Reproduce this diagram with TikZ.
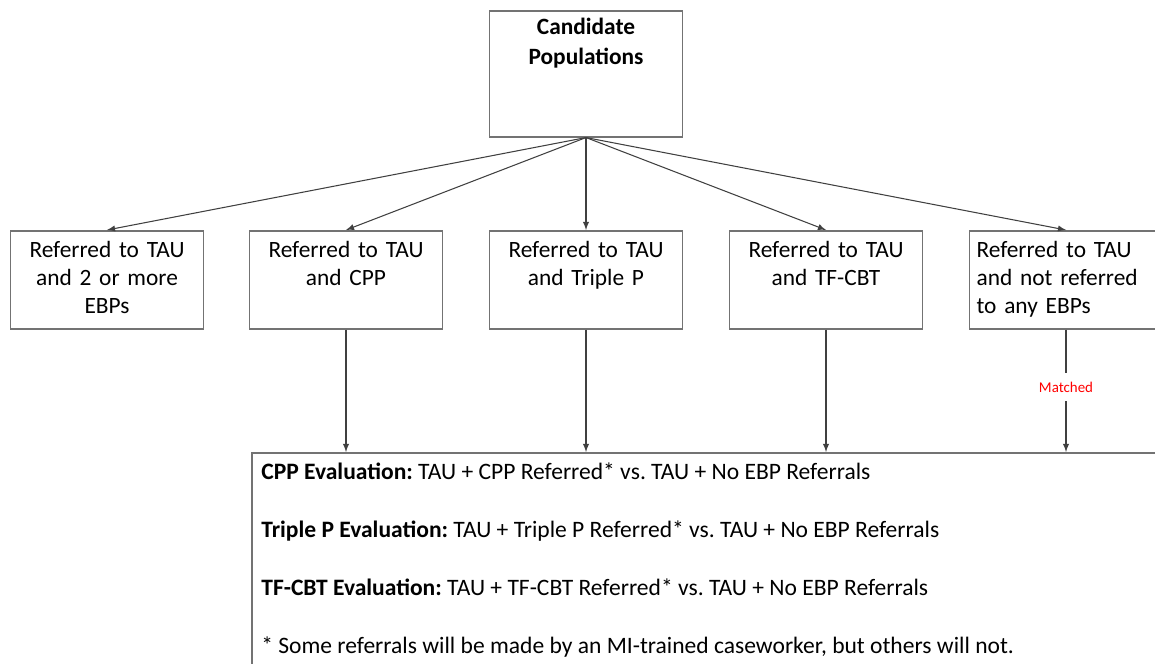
\documentclass[tikz,border=0pt]{standalone}
\usepackage{fontspec}
\setmainfont{Carlito}
\usetikzlibrary{arrows,positioning}
\tikzstyle{refbox} = [rectangle, draw=black!55, line width=0.9pt, anchor=north, text width=101.8pt, align=center, inner xsep=4pt, inner ysep=4pt, text height=11.4pt, text depth=36.4pt, font=\fontsize{13.3}{15.8}\selectfont]
\tikzstyle{link} = [->, draw=black!75, line width=0.6pt]

\begin{document}
\frenchspacing
\begin{tikzpicture}[x=0.02cm, y=-0.02cm, >=latex]
        \useasboundingbox (0, 0) rectangle (1155, 663);

        \node[refbox, text height=9.7pt, text depth=54pt, font=\fontsize{13.3}{17}\selectfont\bfseries] at (586, 10) (cand) {Candidate\\Populations};

        \node[refbox] at (107, 230) (ebpmulti) {Referred to TAU\\and 2 or more\\EBPs};
        \node[refbox] at (346, 230) (ebpcpp) {Referred to TAU\\and CPP};
        \node[refbox] at (586, 230) (ebptriple) {Referred to TAU\\and Triple P};
        \node[refbox] at (826, 230) (ebptfcbt) {Referred to TAU\\and TF-CBT};
        \node[refbox, align=left] at (1066, 230) (ebpnone) {Referred to TAU\\and not referred\\to any EBPs};

        \node[rectangle, draw=black!55, line width=0.9pt, anchor=north west, minimum width=18.98cm, minimum height=4.96cm, inner sep=0] at (251, 452) (evalbox) {};
        \node[anchor=north west, align=left, inner sep=0, font=\fontsize{13.4}{15.8}\selectfont] at ([xshift=0.2cm, yshift=-0.21cm]evalbox.north west) (evaltext) {%
            \textbf{CPP Evaluation:} TAU + CPP Referred* vs. TAU + No EBP Referrals\\[17.2pt]
            \textbf{Triple P Evaluation:} TAU + Triple P Referred* vs. TAU + No EBP Referrals\\[17.2pt]
            \textbf{TF-CBT Evaluation:} TAU + TF-CBT Referred* vs. TAU + No EBP Referrals\\[17.2pt]
            * Some referrals will be made by an MI-trained caseworker, but others will not.};

        \draw[link] (cand.south) -- (ebpmulti.north);
        \draw[link] (cand.south) -- (ebpcpp.north);
        \draw[link] (cand.south) -- (ebptriple.north);
        \draw[link] (cand.south) -- (ebptfcbt.north);
        \draw[link] (cand.south) -- (ebpnone.north);

        \draw[link] (ebpcpp.south) -- (ebpcpp.south |- evalbox.north);
        \draw[link] (ebptriple.south) -- (ebptriple.south |- evalbox.north);
        \draw[link] (ebptfcbt.south) -- (ebptfcbt.south |- evalbox.north);
        \draw[link] (ebpnone.south) -- node[pos=0.47, fill=white, text=red, inner xsep=1pt, inner ysep=5pt, font=\fontsize{8.5}{10}\selectfont] (matched) {Matched} (ebpnone.south |- evalbox.north);
    \end{tikzpicture}
\end{document}
